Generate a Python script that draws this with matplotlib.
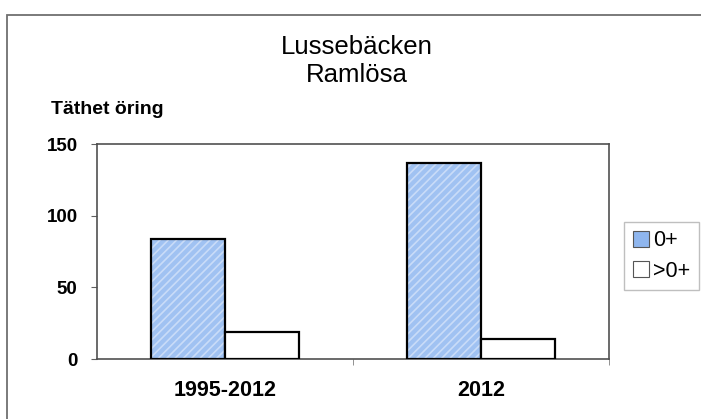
import matplotlib.pyplot as plt
import numpy as np
from matplotlib.patches import Patch, Rectangle

plt.rcParams['font.family'] = ['Liberation Sans', 'DejaVu Sans']
plt.rcParams['hatch.linewidth'] = 1.2

# Data
categories = ['1995-2012', '2012']
series_names = ['0+', '>0+']
young = [84, 137]    # 0+
older = [19, 14]     # >0+
yticks = [0, 50, 100, 150]

fig = plt.figure(figsize=(7.01, 4.19), dpi=100)

# outer chart frame (runs off right and bottom edge)
frame = Rectangle((7 / 701, -0.1), 1.0, (419 - 15) / 419 + 0.1,
                  transform=fig.transFigure, fill=False,
                  edgecolor='#707070', linewidth=1.3)
fig.patches.append(frame)

ax = fig.add_axes([97 / 701, 60 / 419, 512 / 701, 215 / 419])

x = np.arange(len(categories))
w = 0.29

# blue hatched bars: fill + light hatch, then black outline
ax.bar(x - w / 2, young, w, color='#a0c2f2', edgecolor='#c9dcf8',
       hatch='////', linewidth=0, zorder=2)
ax.bar(x - w / 2, young, w, fill=False, edgecolor='black',
       linewidth=1.6, zorder=3)
ax.bar(x + w / 2, older, w, color='white', edgecolor='black',
       linewidth=1.6, zorder=3)

ax.set_xlim(-0.5, 1.5)
ax.set_ylim(0, 150)
ax.set_yticks(yticks)
ax.set_yticklabels([str(t) for t in yticks], fontsize=13.5, fontweight='bold')

ax.set_xticks(x)
ax.set_xticklabels(categories, fontsize=15.5, fontweight='bold')
ax.tick_params(axis='x', length=0, pad=15)
ax.set_xticks([0.5, 1.5], minor=True)
ax.tick_params(axis='x', which='minor', length=4, color='#808080',
               direction='out')
ax.tick_params(axis='y', length=4, color='#606060', pad=10)

for s in ax.spines.values():
    s.set_color('#505050')
    s.set_linewidth(1.2)

fig.text(357 / 701, 1 - 47 / 419, 'Lussebäcken', ha='center',
         va='center', fontsize=18.5)
fig.text(357 / 701, 1 - 75 / 419, 'Ramlösa', ha='center',
         va='center', fontsize=18.5)
fig.text(51 / 701, 1 - 110 / 419, 'Täthet öring', ha='left', va='center',
         fontsize=14, fontweight='bold')

handles = [Patch(facecolor='#8fb6ee', edgecolor='#555555', linewidth=0.8),
           Patch(facecolor='white', edgecolor='#555555', linewidth=0.8)]
leg = fig.legend(handles, series_names, loc='center left',
                 bbox_to_anchor=(624 / 701, 1 - 256 / 419), fontsize=15.5,
                 frameon=True, fancybox=False, handlelength=0.75,
                 handleheight=0.75, handletextpad=0.2, borderpad=0.4,
                 labelspacing=0.45, borderaxespad=0)
leg.get_frame().set_edgecolor('#b0b0b0')
leg.get_frame().set_linewidth(1.0)

fig.savefig('out.png', dpi=100)
